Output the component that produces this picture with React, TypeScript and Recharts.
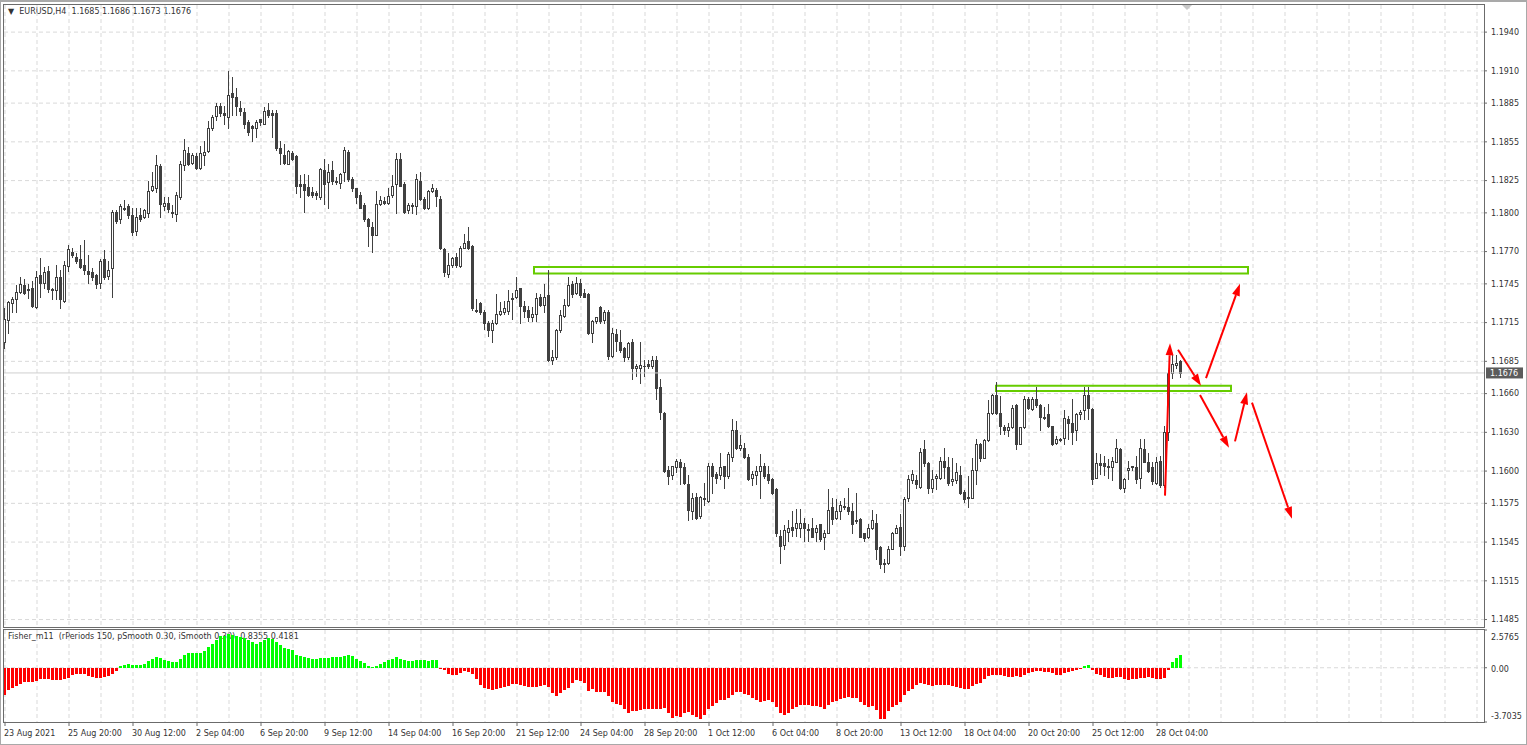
import {
  Bar,
  CartesianGrid,
  ComposedChart,
  ReferenceArea,
  ReferenceLine,
  XAxis,
  YAxis,
} from "recharts";

// EURUSD H4, 23 Aug - 29 Oct 2021, one entry per bar
const timeLabels = [
  "23 Aug 2021", "25 Aug 20:00", "30 Aug 12:00", "2 Sep 04:00", "6 Sep 20:00",
  "9 Sep 12:00", "14 Sep 04:00", "16 Sep 20:00", "21 Sep 12:00", "24 Sep 04:00",
  "28 Sep 20:00", "1 Oct 12:00", "6 Oct 04:00", "8 Oct 20:00", "13 Oct 12:00",
  "18 Oct 04:00", "20 Oct 20:00", "25 Oct 12:00", "28 Oct 04:00",
];

const opens = [
  1.1700, 1.1717, 1.1730, 1.1733, 1.1739, 1.1744, 1.1741, 1.1742, 1.1727, 1.1752,
  1.1746, 1.1755, 1.1741, 1.1740, 1.1750, 1.1732, 1.1759, 1.1770, 1.1766, 1.1764,
  1.1760, 1.1755, 1.1754, 1.1752, 1.1746, 1.1764, 1.1751, 1.1757, 1.1801, 1.1795,
  1.1803, 1.1805, 1.1798, 1.1786, 1.1798, 1.1797, 1.1800, 1.1818, 1.1819, 1.1836,
  1.1805, 1.1808, 1.1801, 1.1799, 1.1812, 1.1837, 1.1846, 1.1839, 1.1844, 1.1835,
  1.1845, 1.1848, 1.1866, 1.1875, 1.1883, 1.1877, 1.1874, 1.1893, 1.1890, 1.1881,
  1.1878, 1.1870, 1.1867, 1.1866, 1.1873, 1.1869, 1.1880, 1.1877, 1.1877, 1.1850,
  1.1845, 1.1838, 1.1846, 1.1844, 1.1822, 1.1822, 1.1820, 1.1816, 1.1815, 1.1812,
  1.1833, 1.1824, 1.1833, 1.1825, 1.1823, 1.1832, 1.1847, 1.1826, 1.1819, 1.1814,
  1.1806, 1.1795, 1.1789, 1.1783, 1.1807, 1.1809, 1.1808, 1.1814, 1.1822, 1.1842,
  1.1822, 1.1802, 1.1806, 1.1805, 1.1825, 1.1811, 1.1804, 1.1817, 1.1818, 1.1811,
  1.1772, 1.1753, 1.1760, 1.1766, 1.1759, 1.1773, 1.1778, 1.1774, 1.1725, 1.1730,
  1.1723, 1.1715, 1.1709, 1.1715, 1.1722, 1.1723, 1.1724, 1.1734, 1.1735, 1.1742,
  1.1728, 1.1725, 1.1719, 1.1722, 1.1735, 1.1729, 1.1736, 1.1686, 1.1688, 1.1709,
  1.1720, 1.1729, 1.1745, 1.1738, 1.1746, 1.1738, 1.1737, 1.1707, 1.1716, 1.1727,
  1.1717, 1.1723, 1.1689, 1.1706, 1.1700, 1.1695, 1.1688, 1.1700, 1.1680, 1.1680,
  1.1681, 1.1683, 1.1681, 1.1686, 1.1665, 1.1645, 1.1601, 1.1597, 1.1603, 1.1607,
  1.1603, 1.1590, 1.1569, 1.1580, 1.1565, 1.1579, 1.1577, 1.1604, 1.1598, 1.1597,
  1.1604, 1.1596, 1.1611, 1.1632, 1.1618, 1.1618, 1.1611, 1.1595, 1.1597, 1.1600,
  1.1604, 1.1598, 1.1594, 1.1586, 1.1550, 1.1543, 1.1553, 1.1557, 1.1556, 1.1556,
  1.1560, 1.1555, 1.1556, 1.1553, 1.1559, 1.1549, 1.1552, 1.1572, 1.1564, 1.1569,
  1.1573, 1.1572, 1.1569, 1.1562, 1.1563, 1.1552, 1.1549, 1.1556, 1.1560, 1.1541,
  1.1529, 1.1529, 1.1540, 1.1552, 1.1557, 1.1542, 1.1579, 1.1593, 1.1593, 1.1588,
  1.1617, 1.1606, 1.1587, 1.1595, 1.1595, 1.1608, 1.1603, 1.1592, 1.1593, 1.1597,
  1.1584, 1.1580, 1.1579, 1.1601, 1.1621, 1.1610, 1.1624, 1.1645, 1.1659, 1.1645,
  1.1634, 1.1632, 1.1634, 1.1651, 1.1621, 1.1634, 1.1656, 1.1648, 1.1656, 1.1651,
  1.1641, 1.1644, 1.1635, 1.1622, 1.1625, 1.1626, 1.1640, 1.1637, 1.1632, 1.1644,
  1.1647, 1.1659, 1.1648, 1.1595, 1.1606, 1.1606, 1.1604, 1.1603, 1.1607, 1.1617,
  1.1587, 1.1601, 1.1603, 1.1603, 1.1595, 1.1617, 1.1607, 1.1603, 1.1591, 1.1608,
  1.1589, 1.1630, 1.1676, 1.1682, 1.1685,
];

const highs = [
  1.1726, 1.1732, 1.1735, 1.1744, 1.1750, 1.1749, 1.1745, 1.1747, 1.1755, 1.1765,
  1.1758, 1.1759, 1.1742, 1.1760, 1.1756, 1.1763, 1.1775, 1.1773, 1.1769, 1.1775,
  1.1779, 1.1767, 1.1757, 1.1753, 1.1764, 1.1771, 1.1763, 1.1802, 1.1802, 1.1807,
  1.1810, 1.1807, 1.1804, 1.1804, 1.1804, 1.1803, 1.1825, 1.1832, 1.1845, 1.1838,
  1.1812, 1.1812, 1.1806, 1.1816, 1.1840, 1.1857, 1.1851, 1.1846, 1.1846, 1.1852,
  1.1856, 1.1871, 1.1876, 1.1885, 1.1885, 1.1883, 1.1910, 1.1905, 1.1897, 1.1887,
  1.1881, 1.1872, 1.1868, 1.1872, 1.1873, 1.1882, 1.1885, 1.1880, 1.1880, 1.1856,
  1.1853, 1.1849, 1.1848, 1.1845, 1.1829, 1.1830, 1.1829, 1.1820, 1.1817, 1.1835,
  1.1842, 1.1838, 1.1840, 1.1828, 1.1831, 1.1851, 1.1849, 1.1828, 1.1819, 1.1816,
  1.1808, 1.1796, 1.1793, 1.1817, 1.1813, 1.1812, 1.1819, 1.1829, 1.1846, 1.1846,
  1.1824, 1.1808, 1.1808, 1.1830, 1.1832, 1.1812, 1.1818, 1.1822, 1.1819, 1.1813,
  1.1773, 1.1769, 1.1766, 1.1769, 1.1774, 1.1784, 1.1789, 1.1775, 1.1733, 1.1731,
  1.1725, 1.1716, 1.1717, 1.1737, 1.1731, 1.1732, 1.1740, 1.1738, 1.1750, 1.1742,
  1.1732, 1.1728, 1.1727, 1.1738, 1.1737, 1.1745, 1.1756, 1.1694, 1.1710, 1.1725,
  1.1733, 1.1750, 1.1747, 1.1750, 1.1749, 1.1741, 1.1738, 1.1717, 1.1719, 1.1728,
  1.1725, 1.1725, 1.1711, 1.1710, 1.1709, 1.1696, 1.1700, 1.1702, 1.1683, 1.1700,
  1.1686, 1.1686, 1.1689, 1.1689, 1.1671, 1.1646, 1.1604, 1.1604, 1.1609, 1.1609,
  1.1606, 1.1597, 1.1583, 1.1583, 1.1581, 1.1591, 1.1606, 1.1606, 1.1599, 1.1614,
  1.1604, 1.1615, 1.1640, 1.1639, 1.1628, 1.1622, 1.1613, 1.1600, 1.1604, 1.1613,
  1.1606, 1.1604, 1.1595, 1.1587, 1.1554, 1.1558, 1.1562, 1.1569, 1.1571, 1.1571,
  1.1564, 1.1559, 1.1564, 1.1558, 1.1559, 1.1554, 1.1586, 1.1579, 1.1578, 1.1577,
  1.1579, 1.1587, 1.1575, 1.1583, 1.1564, 1.1552, 1.1559, 1.1570, 1.1567, 1.1542,
  1.1532, 1.1542, 1.1553, 1.1558, 1.1567, 1.1580, 1.1597, 1.1601, 1.1597, 1.1618,
  1.1624, 1.1607, 1.1601, 1.1598, 1.1611, 1.1618, 1.1611, 1.1610, 1.1606, 1.1604,
  1.1585, 1.1596, 1.1610, 1.1625, 1.1622, 1.1625, 1.1655, 1.1660, 1.1669, 1.1658,
  1.1636, 1.1637, 1.1651, 1.1652, 1.1634, 1.1658, 1.1657, 1.1657, 1.1665, 1.1652,
  1.1650, 1.1652, 1.1635, 1.1627, 1.1626, 1.1647, 1.1643, 1.1656, 1.1645, 1.1647,
  1.1665, 1.1665, 1.1649, 1.1614, 1.1613, 1.1612, 1.1609, 1.1611, 1.1625, 1.1618,
  1.1595, 1.1608, 1.1604, 1.1612, 1.1625, 1.1625, 1.1614, 1.1607, 1.1611, 1.1612,
  1.1635, 1.1678, 1.1690, 1.1690, 1.1686,
];

const lows = [
  1.1695, 1.1707, 1.1723, 1.1723, 1.1738, 1.1737, 1.1734, 1.1727, 1.1726, 1.1735,
  1.1742, 1.1739, 1.1733, 1.1733, 1.1726, 1.1731, 1.1755, 1.1766, 1.1761, 1.1757,
  1.1753, 1.1746, 1.1748, 1.1742, 1.1742, 1.1749, 1.1749, 1.1735, 1.1792, 1.1792,
  1.1802, 1.1796, 1.1783, 1.1783, 1.1794, 1.1796, 1.1797, 1.1817, 1.1816, 1.1797,
  1.1802, 1.1801, 1.1797, 1.1794, 1.1811, 1.1833, 1.1837, 1.1838, 1.1834, 1.1834,
  1.1837, 1.1847, 1.1864, 1.1872, 1.1875, 1.1869, 1.1866, 1.1876, 1.1876, 1.1876,
  1.1866, 1.1860, 1.1856, 1.1859, 1.1868, 1.1869, 1.1874, 1.1859, 1.1849, 1.1838,
  1.1838, 1.1838, 1.1841, 1.1815, 1.1812, 1.1801, 1.1813, 1.1812, 1.1811, 1.1811,
  1.1807, 1.1804, 1.1822, 1.1822, 1.1819, 1.1825, 1.1825, 1.1817, 1.1808, 1.1804,
  1.1794, 1.1774, 1.1770, 1.1783, 1.1806, 1.1807, 1.1807, 1.1812, 1.1800, 1.1821,
  1.1800, 1.1800, 1.1800, 1.1799, 1.1810, 1.1803, 1.1803, 1.1816, 1.1805, 1.1772,
  1.1751, 1.1750, 1.1758, 1.1758, 1.1758, 1.1773, 1.1772, 1.1725, 1.1723, 1.1722,
  1.1710, 1.1705, 1.1700, 1.1714, 1.1721, 1.1722, 1.1722, 1.1718, 1.1734, 1.1715,
  1.1719, 1.1716, 1.1716, 1.1716, 1.1728, 1.1723, 1.1685, 1.1683, 1.1687, 1.1708,
  1.1719, 1.1728, 1.1735, 1.1737, 1.1735, 1.1735, 1.1706, 1.1700, 1.1715, 1.1715,
  1.1715, 1.1687, 1.1688, 1.1693, 1.1692, 1.1685, 1.1687, 1.1671, 1.1674, 1.1668,
  1.1674, 1.1680, 1.1680, 1.1656, 1.1640, 1.1599, 1.1590, 1.1594, 1.1599, 1.1590,
  1.1590, 1.1562, 1.1563, 1.1563, 1.1564, 1.1574, 1.1576, 1.1583, 1.1591, 1.1594,
  1.1587, 1.1595, 1.1608, 1.1617, 1.1616, 1.1610, 1.1593, 1.1589, 1.1590, 1.1579,
  1.1595, 1.1591, 1.1582, 1.1550, 1.1529, 1.1540, 1.1546, 1.1550, 1.1550, 1.1549,
  1.1546, 1.1546, 1.1549, 1.1546, 1.1546, 1.1540, 1.1552, 1.1559, 1.1563, 1.1563,
  1.1571, 1.1567, 1.1552, 1.1560, 1.1549, 1.1546, 1.1548, 1.1555, 1.1532, 1.1525,
  1.1522, 1.1528, 1.1540, 1.1552, 1.1535, 1.1539, 1.1577, 1.1591, 1.1587, 1.1587,
  1.1604, 1.1583, 1.1584, 1.1586, 1.1594, 1.1595, 1.1589, 1.1589, 1.1591, 1.1582,
  1.1576, 1.1572, 1.1579, 1.1590, 1.1608, 1.1610, 1.1623, 1.1644, 1.1644, 1.1629,
  1.1629, 1.1627, 1.1633, 1.1617, 1.1621, 1.1633, 1.1648, 1.1647, 1.1650, 1.1632,
  1.1640, 1.1634, 1.1620, 1.1621, 1.1623, 1.1621, 1.1625, 1.1621, 1.1624, 1.1640,
  1.1640, 1.1640, 1.1590, 1.1595, 1.1598, 1.1597, 1.1595, 1.1593, 1.1607, 1.1586,
  1.1584, 1.1594, 1.1601, 1.1591, 1.1587, 1.1607, 1.1599, 1.1590, 1.1590, 1.1588,
  1.1588, 1.1624, 1.1672, 1.1680, 1.1673,
];

const closes = [
  1.1718, 1.1731, 1.1733, 1.1739, 1.1745, 1.1738, 1.1740, 1.1728, 1.1750, 1.1746,
  1.1754, 1.1741, 1.1740, 1.1750, 1.1733, 1.1760, 1.1772, 1.1767, 1.1763, 1.1758,
  1.1756, 1.1753, 1.1750, 1.1745, 1.1763, 1.1750, 1.1756, 1.1801, 1.1794, 1.1805,
  1.1804, 1.1798, 1.1785, 1.1797, 1.1795, 1.1802, 1.1817, 1.1821, 1.1837, 1.1807,
  1.1808, 1.1803, 1.1800, 1.1814, 1.1838, 1.1849, 1.1838, 1.1845, 1.1835, 1.1846,
  1.1847, 1.1866, 1.1874, 1.1883, 1.1877, 1.1876, 1.1891, 1.1890, 1.1883, 1.1879,
  1.1869, 1.1863, 1.1866, 1.1870, 1.1870, 1.1879, 1.1876, 1.1876, 1.1850, 1.1846,
  1.1839, 1.1848, 1.1842, 1.1821, 1.1821, 1.1818, 1.1814, 1.1814, 1.1814, 1.1834,
  1.1822, 1.1832, 1.1825, 1.1824, 1.1830, 1.1849, 1.1826, 1.1819, 1.1812, 1.1804,
  1.1795, 1.1790, 1.1783, 1.1807, 1.1810, 1.1808, 1.1813, 1.1821, 1.1842, 1.1821,
  1.1801, 1.1806, 1.1805, 1.1826, 1.1811, 1.1804, 1.1817, 1.1819, 1.1813, 1.1773,
  1.1754, 1.1760, 1.1765, 1.1760, 1.1773, 1.1777, 1.1773, 1.1726, 1.1724, 1.1723,
  1.1715, 1.1709, 1.1715, 1.1722, 1.1724, 1.1726, 1.1732, 1.1733, 1.1740, 1.1728,
  1.1724, 1.1719, 1.1722, 1.1734, 1.1729, 1.1735, 1.1686, 1.1688, 1.1709, 1.1721,
  1.1729, 1.1744, 1.1737, 1.1746, 1.1736, 1.1735, 1.1707, 1.1716, 1.1719, 1.1716,
  1.1723, 1.1689, 1.1707, 1.1701, 1.1694, 1.1688, 1.1699, 1.1680, 1.1681, 1.1682,
  1.1681, 1.1681, 1.1686, 1.1664, 1.1646, 1.1600, 1.1596, 1.1604, 1.1608, 1.1603,
  1.1591, 1.1570, 1.1579, 1.1564, 1.1580, 1.1578, 1.1604, 1.1596, 1.1595, 1.1603,
  1.1596, 1.1613, 1.1632, 1.1618, 1.1620, 1.1611, 1.1594, 1.1598, 1.1600, 1.1604,
  1.1596, 1.1593, 1.1583, 1.1552, 1.1542, 1.1554, 1.1556, 1.1554, 1.1560, 1.1560,
  1.1556, 1.1554, 1.1549, 1.1556, 1.1547, 1.1552, 1.1570, 1.1563, 1.1569, 1.1574,
  1.1572, 1.1569, 1.1559, 1.1561, 1.1549, 1.1548, 1.1556, 1.1562, 1.1540, 1.1528,
  1.1528, 1.1540, 1.1552, 1.1556, 1.1542, 1.1578, 1.1594, 1.1598, 1.1590, 1.1615,
  1.1606, 1.1587, 1.1594, 1.1596, 1.1608, 1.1603, 1.1591, 1.1594, 1.1599, 1.1583,
  1.1578, 1.1579, 1.1601, 1.1621, 1.1610, 1.1624, 1.1645, 1.1659, 1.1645, 1.1635,
  1.1632, 1.1634, 1.1649, 1.1621, 1.1634, 1.1656, 1.1649, 1.1656, 1.1651, 1.1642,
  1.1642, 1.1635, 1.1621, 1.1625, 1.1624, 1.1641, 1.1637, 1.1630, 1.1644, 1.1646,
  1.1659, 1.1649, 1.1594, 1.1606, 1.1605, 1.1604, 1.1603, 1.1608, 1.1618, 1.1587,
  1.1594, 1.1602, 1.1604, 1.1594, 1.1618, 1.1607, 1.1600, 1.1592, 1.1607, 1.1589,
  1.1630, 1.1676, 1.1683, 1.1684, 1.1676,
];

// Fisher_m11 histogram, one value per bar
const fisher = [
  -1.87, -1.55, -1.40, -1.25, -1.10, -1.00, -0.95, -0.95, -0.88, -0.80,
  -0.80, -0.78, -0.82, -0.85, -0.85, -0.80, -0.68, -0.50, -0.45, -0.45,
  -0.45, -0.55, -0.60, -0.70, -0.70, -0.65, -0.55, -0.45, -0.20, 0.10,
  0.20, 0.25, 0.18, 0.18, 0.20, 0.25, 0.43, 0.60, 0.75, 0.65,
  0.50, 0.45, 0.38, 0.40, 0.60, 0.85, 1.00, 1.03, 1.03, 1.03,
  1.15, 1.40, 1.62, 1.90, 2.15, 2.20, 2.30, 2.25, 2.20, 2.12,
  2.05, 1.90, 1.75, 1.65, 1.75, 1.90, 2.00, 1.95, 1.75, 1.57,
  1.35, 1.25, 1.18, 0.90, 0.78, 0.70, 0.65, 0.60, 0.60, 0.65,
  0.68, 0.68, 0.70, 0.70, 0.72, 0.80, 0.85, 0.78, 0.60, 0.45,
  0.35, 0.15, 0.07, 0.12, 0.25, 0.40, 0.50, 0.60, 0.70, 0.60,
  0.50, 0.45, 0.45, 0.50, 0.50, 0.50, 0.45, 0.55, 0.50, -0.05,
  -0.15, -0.43, -0.47, -0.47, -0.37, -0.25, -0.30, -0.45, -0.80, -1.20,
  -1.35, -1.45, -1.55, -1.45, -1.35, -1.30, -1.25, -1.10, -1.10, -1.15,
  -1.25, -1.30, -1.30, -1.30, -1.25, -1.15, -1.30, -1.75, -1.95, -1.70,
  -1.55, -1.35, -1.05, -0.85, -0.90, -1.05, -1.60, -1.44, -1.67, -1.67,
  -1.67, -1.95, -2.33, -2.47, -2.51, -2.79, -3.07, -2.93, -2.98, -2.86,
  -2.84, -2.79, -2.79, -2.79, -2.84, -2.74, -3.12, -3.40, -3.30, -3.35,
  -3.12, -3.02, -3.21, -3.35, -3.49, -3.21, -2.84, -2.60, -2.42, -2.23,
  -2.23, -2.09, -1.86, -1.67, -1.67, -1.77, -1.86, -2.09, -2.23, -2.33,
  -2.26, -2.23, -2.37, -2.67, -3.07, -3.21, -3.07, -2.79, -2.70, -2.56,
  -2.51, -2.56, -2.60, -2.60, -2.67, -2.84, -2.51, -2.37, -2.28, -2.14,
  -2.05, -2.00, -2.09, -2.09, -2.33, -2.56, -2.65, -2.60, -2.88, -3.49,
  -3.49, -2.98, -2.65, -2.51, -2.37, -1.86, -1.58, -1.44, -1.16, -1.02,
  -1.12, -1.21, -1.26, -1.16, -1.16, -1.21, -1.21, -1.26, -1.30, -1.35,
  -1.44, -1.44, -1.26, -1.12, -1.07, -0.79, -0.56, -0.51, -0.51, -0.47,
  -0.56, -0.60, -0.60, -0.56, -0.63, -0.47, -0.37, -0.30, -0.23, -0.19,
  -0.28, -0.28, -0.33, -0.47, -0.47, -0.37, -0.28, -0.19, -0.12, -0.07,
  0.12, 0.19, -0.14, -0.42, -0.51, -0.65, -0.70, -0.70, -0.65, -0.65,
  -0.79, -0.84, -0.74, -0.74, -0.70, -0.70, -0.65, -0.70, -0.79, -0.74,
  -0.70, -0.14, 0.37, 0.65, 0.84,
];

const priceTicks = [
  1.194, 1.191, 1.1885, 1.1855, 1.1825, 1.18, 1.177, 1.1745, 1.1715,
  1.1685, 1.166, 1.163, 1.16, 1.1575, 1.1545, 1.1515, 1.1485,
];
const fisherTicks = [2.5765, 0, -3.7035];
const bidPrice = 1.1676;

// drawn objects: rectangles and arrows, in bar index / price
const zones = [
  { from: 132.25, to: 310.75, top: 1.1758, bottom: 1.1753 },
  { from: 247.75, to: 306.5, top: 1.1666, bottom: 1.1662 },
];
const arrows = [
  { x1: 290, y1: 1.1581, x2: 291.25, y2: 1.1699 },
  { x1: 293.25, y1: 1.1694, x2: 299, y2: 1.1666 },
  { x1: 300.25, y1: 1.1672, x2: 308.75, y2: 1.1745 },
  { x1: 298.75, y1: 1.1659, x2: 306, y2: 1.1618 },
  { x1: 307.5, y1: 1.1623, x2: 310.5, y2: 1.1661 },
  { x1: 311.75, y1: 1.1653, x2: 321.75, y2: 1.1563 },
];

const W = 1527;
const X_DOMAIN: [number, number] = [-0.25, 369.75];
const PRICE_DOMAIN: [number, number] = [1.148, 1.1961];
const FISHER_DOMAIN: [number, number] = [-3.7035, 2.5765];
const FONT = "'DejaVu Sans', Tahoma, sans-serif";
const TEXT = "#333333";
const FRAME = "#6b6b6b";
const CANDLE = "#404040";
const GREEN = "#00ff00";
const RED = "#ff0000";
const ZONE = "#66cc00";
const GRID = "#d9d9d9";

const labelBars = timeLabels.map((_, k) => k * 16);
const gridBars = Array.from({ length: 47 }, (_, k) => k * 8);

const candles = opens.map((o, i) => ({
  i,
  o,
  h: highs[i],
  l: lows[i],
  c: closes[i],
  range: [lows[i], highs[i]],
}));
const fisherRows = fisher.map((v, i) => ({ i, v }));

function Candle(props: any) {
  const { x, y, width, height, payload } = props;
  if (!payload || x == null) return null;
  const { o, h, l, c } = payload;
  const top = Math.min(y, y + height);
  const span = Math.abs(height);
  const per = h === l ? 0 : span / (h - l);
  const yOf = (v: number) => top + (h - v) * per;
  const col = Math.floor(x + width / 2);
  const bt = Math.round(yOf(Math.max(o, c)));
  const bb = Math.round(yOf(Math.min(o, c)));
  const up = c >= o;
  return (
    <g>
      <line
        x1={col + 0.5}
        x2={col + 0.5}
        y1={Math.round(top)}
        y2={Math.round(top + span) + 1}
        stroke={CANDLE}
      />
      {bb - bt < 1 ? (
        <line x1={col - 1} x2={col + 2} y1={bt + 0.5} y2={bt + 0.5} stroke={CANDLE} />
      ) : (
        <rect
          x={col - 0.5}
          y={bt + 0.5}
          width={2}
          height={bb - bt}
          fill={up ? "#ffffff" : CANDLE}
          stroke={CANDLE}
        />
      )}
    </g>
  );
}

function FisherBar(props: any) {
  const { x, y, width, height, payload } = props;
  if (x == null) return null;
  const top = Math.round(Math.min(y, y + height));
  const bot = Math.round(Math.max(y, y + height));
  const col = Math.floor(x + width / 2);
  return (
    <rect
      x={col - 1}
      y={top}
      width={3}
      height={Math.max(bot - top, 1)}
      fill={payload.v >= 0 ? GREEN : RED}
    />
  );
}

function Arrow(props: any) {
  const { x1, y1, x2, y2 } = props;
  const a = Math.atan2(y2 - y1, x2 - x1);
  const cos = Math.cos(a);
  const sin = Math.sin(a);
  const bx = x2 - 12 * cos;
  const by = y2 - 12 * sin;
  const pts = [
    [x2, y2],
    [bx - 4 * sin, by + 4 * cos],
    [bx + 4 * sin, by - 4 * cos],
  ]
    .map((p) => p.join(","))
    .join(" ");
  return (
    <g>
      <line x1={x1} y1={y1} x2={bx} y2={by} stroke={RED} strokeWidth={2} />
      <polygon points={pts} fill={RED} />
    </g>
  );
}

function PriceTag(props: any) {
  const vb = props.viewBox;
  if (!vb) return null;
  const x = vb.x + vb.width + 2;
  return (
    <g>
      <rect x={x} y={vb.y - 5.5} width={37} height={11} fill="#5c5c5c" />
      <text x={x + 4} y={vb.y + 3} fontSize={8} fontFamily={FONT} fill="#ffffff">
        {bidPrice.toFixed(4)}
      </text>
    </g>
  );
}

function TimeTick(props: any) {
  const { x, y, payload } = props;
  const k = labelBars.indexOf(payload.value);
  return (
    <text x={x - 1} y={y + 8} fontSize={8} fontFamily={FONT} fill={TEXT}>
      {timeLabels[k]}
    </text>
  );
}

function FisherTick(props: any) {
  const { x, y, payload } = props;
  const v = payload.value;
  const dy = v > 0 ? 7 : v < 0 ? -6 : 1;
  return (
    <text x={x} y={y + dy + 3} fontSize={8} fontFamily={FONT} fill={TEXT}>
      {v === 0 ? "0.00" : v.toFixed(4)}
    </text>
  );
}

const frame = (left: number, top: number, width: number, height: number) => ({
  position: "absolute" as const,
  left,
  top,
  width,
  height,
  border: `1px solid ${FRAME}`,
  boxSizing: "border-box" as const,
  pointerEvents: "none" as const,
});

export default function App() {
  return (
    <div
      style={{
        position: "fixed",
        left: 0,
        top: 0,
        width: W,
        height: 745,
        background: "#ffffff",
        overflow: "hidden",
        fontFamily: FONT,
      }}
    >
      <div
        style={{
          position: "absolute",
          left: 8,
          top: 7,
          fontSize: 8,
          color: TEXT,
          whiteSpace: "pre",
        }}
      >
        {"\u25BC  EURUSD,H4  1.1685 1.1686 1.1673 1.1676"}
      </div>
      <div
        style={{
          position: "absolute",
          left: 8,
          top: 632,
          fontSize: 8,
          color: TEXT,
          whiteSpace: "pre",
        }}
      >
        {"Fisher_m11  (rPeriods 150, pSmooth 0.30, iSmooth 0.30)  0.8355 0.4181"}
      </div>

      <div style={{ position: "absolute", left: 0, top: 0 }}>
        <ComposedChart
          width={W}
          height={627}
          data={candles}
          margin={{ top: 5, right: 0, bottom: 1, left: 4 }}
        >
          <CartesianGrid
            stroke={GRID}
            strokeDasharray="4 3"
            verticalValues={gridBars}
            horizontalValues={priceTicks}
          />
          <XAxis dataKey="i" type="number" domain={X_DOMAIN} allowDataOverflow hide />
          <YAxis
            orientation="right"
            width={43}
            domain={PRICE_DOMAIN}
            allowDataOverflow
            ticks={priceTicks}
            interval={0}
            tickFormatter={(v: number) => v.toFixed(4)}
            tick={{ fontSize: 8, fill: TEXT, fontFamily: FONT }}
            tickLine={{ stroke: FRAME }}
            tickSize={3}
            tickMargin={4}
            axisLine={false}
          />
          <ReferenceLine
            y={bidPrice}
            stroke="#cfcfcf"
            label={(p: any) => <PriceTag {...p} />}
          />
          <Bar dataKey="range" barSize={3} shape={<Candle />} isAnimationActive={false} />
          {zones.map((z, k) => (
            <ReferenceArea
              key={`zone-${k}`}
              x1={z.from}
              x2={z.to}
              y1={z.bottom}
              y2={z.top}
              fill="none"
              fillOpacity={0}
              stroke={ZONE}
              strokeWidth={2}
            />
          ))}
          {arrows.map((a, k) => (
            <ReferenceLine
              key={`arrow-${k}`}
              segment={[
                { x: a.x1, y: a.y1 },
                { x: a.x2, y: a.y2 },
              ]}
              shape={Arrow}
            />
          ))}
        </ComposedChart>
      </div>

      <div style={{ position: "absolute", left: 0, top: 629 }}>
        <ComposedChart
          width={W}
          height={116}
          data={fisherRows}
          margin={{ top: 1, right: 0, bottom: 0, left: 4 }}
        >
          <CartesianGrid
            stroke={GRID}
            strokeDasharray="4 3"
            verticalValues={gridBars}
            horizontalValues={[0]}
          />
          <XAxis
            dataKey="i"
            type="number"
            domain={X_DOMAIN}
            allowDataOverflow
            ticks={labelBars}
            interval={0}
            height={23}
            tick={<TimeTick />}
            tickLine={{ stroke: FRAME }}
            tickSize={4}
            tickMargin={2}
            axisLine={false}
          />
          <YAxis
            orientation="right"
            width={43}
            domain={FISHER_DOMAIN}
            allowDataOverflow
            ticks={fisherTicks}
            interval={0}
            tick={<FisherTick />}
            tickLine={{ stroke: FRAME }}
            tickSize={3}
            tickMargin={4}
            axisLine={false}
          />
          <Bar dataKey="v" barSize={3} shape={<FisherBar />} isAnimationActive={false} />
        </ComposedChart>
      </div>

      <div style={frame(3, 4, 1482, 624)} />
      <div style={frame(3, 629, 1482, 94)} />
      <div
        style={{
          position: "absolute",
          left: 1182,
          top: 5,
          width: 0,
          height: 0,
          borderLeft: "5px solid transparent",
          borderRight: "5px solid transparent",
          borderTop: "5px solid #c8c8c8",
        }}
      />
      <div
        style={{
          position: "absolute",
          left: 0,
          top: 0,
          width: W,
          height: 745,
          borderTop: "2px solid #a9a9a9",
          borderLeft: "1px solid #a9a9a9",
          borderRight: "1px solid #a9a9a9",
          borderBottom: "1px solid #a9a9a9",
          boxSizing: "border-box",
          pointerEvents: "none",
        }}
      />
    </div>
  );
}
